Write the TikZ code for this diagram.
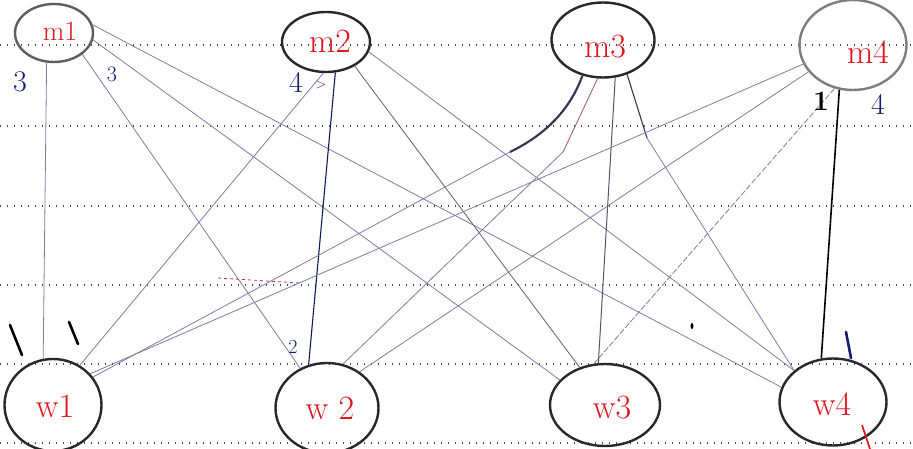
\documentclass[tikz,border=0pt]{standalone}
\usetikzlibrary{shapes.geometric}
\definecolor{ink}{RGB}{40,40,40}
\definecolor{pencil}{RGB}{125,125,165}
\definecolor{darkpencil}{RGB}{55,55,85}
\definecolor{pen}{RGB}{20,30,110}
\definecolor{redpen}{RGB}{225,20,30}
\definecolor{ruling}{RGB}{70,70,90}
\begin{document}
\begin{tikzpicture}[x=1pt,y=-1pt,
  vtx/.style={ellipse,draw=ink,line width=2.4pt,inner sep=0pt},
  lbl/.style={text=redpen,inner sep=0pt,font=\fontsize{34}{36}\selectfont},
  num/.style={text=pen,inner sep=0pt,font=\fontsize{30}{32}\selectfont},
  edge/.style={draw=pencil,line width=0.8pt},
  darkedge/.style={draw=darkpencil,line width=1.1pt},
  ruled/.style={draw=ruling,line width=1.5pt,dash pattern=on 1.3pt off 5.7pt},
  tally/.style={draw=black,line width=2.6pt,line cap=round}]
\useasboundingbox (0,0) rectangle (913,449);
\fill[white] (0,0) rectangle (913,449);

% ruled paper lines
\foreach \yy in {45,126,206,285,364,443}
  \draw[ruled] (0,\yy) -- (913,\yy);

% vertices
\node[vtx,draw=ink!75,minimum width=78pt,minimum height=58pt] (m1) at (54,33) {};
\node[vtx,minimum width=88pt,minimum height=60pt] (m2) at (326,42) {};
\node[vtx,minimum width=103pt,minimum height=75pt] (m3) at (603,40) {};
\node[vtx,draw=ink!60,minimum width=107pt,minimum height=90pt] (m4) at (853,45) {};
\node[vtx,minimum width=97pt,minimum height=92pt] (w1) at (53,405) {};
\node[vtx,minimum width=103pt,minimum height=90pt] (w2) at (327,408) {};
\node[vtx,minimum width=110pt,minimum height=82pt] (w3) at (605,405) {};
\node[vtx,minimum width=107pt,minimum height=87pt] (w4) at (833,402) {};

% vertex names
\node[lbl,font=\fontsize{28}{30}\selectfont] (tm1) at (60,31) {m1};
\node[lbl] (tm2) at (330,41) {m2};
\node[lbl] (tm3) at (605,47) {m3};
\node[lbl] (tm4) at (868,52) {m4};
\node[lbl] (tw1) at (55,406) {w1};
\node[lbl] (tw2) at (330,408) {w 2};
\node[lbl] (tw3) at (612,408) {w3};
\node[lbl] (tw4) at (832,404) {w4};

% bends of the hand-drawn strokes
\coordinate (k1) at (510,152);
\coordinate (k2) at (563,152);
\coordinate (k3) at (647,138);

% edges from m1
\draw[edge] (m1.-104) -- (w1.102);
\draw[edge] (m1.-37) -- (w2.124);
\draw[edge] (m1.-10) -- (w3.151);
\draw[edge] (m1.12) -- (w4.164);

% edges from m2
\draw[edge] (m2.-95) -- (w1.56);
\draw[darkedge,draw=pen!80!black] (m2.-73) -- (w2.113);
\draw[edge,draw=darkpencil!80] (m2.-40) -- (w3.124);
\draw[edge] (m2.-13) -- (w4.141);

% edges from m3
\draw[draw=darkpencil,line width=2.2pt] (m3.-120) .. controls (570,110) and (545,135) .. (k1);
\draw[edge] (k1) -- (w1.35);
\draw[edge,draw=redpen!40!pencil] (m3.-98) -- (k2);
\draw[edge] (k2) -- (w2.70);
\draw[edge,draw=darkpencil!85,line width=1pt] (m3.-72) -- (w3.99);
\draw[darkedge] (m3.-55) -- (k3);
\draw[edge] (k3) -- (w4.141);

% edges from m4
\draw[edge] (m4.-159) -- (w1.40);
\draw[edge] (m4.-149) -- (w2.48);
\draw[edge,dash pattern=on 6pt off 2pt] (m4.-113) -- (w3.105);
\draw[draw=black,line width=1.6pt] (m4.-107) -- (w4.105);

% weights and marks
\node[num] (n1) at (20,82) {3};
\node[num,font=\fontsize{22}{24}\selectfont] (n2) at (112,74) {3};
\node[num] (n3) at (296,82) {4};
\node[text=pen,font=\fontsize{14}{16}\selectfont] (n3b) at (321,85) {>};
\node[text=black,font=\fontsize{28}{30}\selectfont\bfseries] (n4) at (821,101) {1};
\node[num] (n5) at (878,104) {4};
\node[num,font=\fontsize{20}{22}\selectfont] (n6) at (293,347) {2};
\draw[tally] (10,325) -- (22,355);
\draw[tally] (69,322) -- (78,344);
\draw[tally,draw=pen] (846,332) -- (851,358);
\draw[draw=redpen!70!pencil,line width=0.8pt,dashed] (218,278) -- (300,283);
\fill[black] (692,326) ellipse (1.5pt and 3pt);
\draw[redpen,line width=1.6pt] (862,425) -- (870,449);
\end{tikzpicture}
\end{document}
